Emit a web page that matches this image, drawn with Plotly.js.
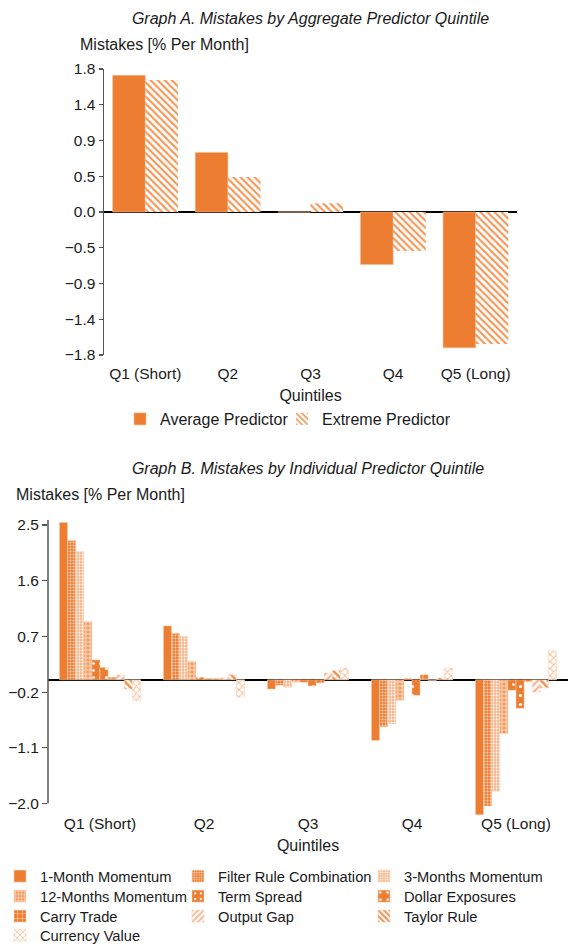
<!DOCTYPE html>
<html>
<head>
<meta charset="utf-8">
<script src="https://cdn.plot.ly/plotly-3.0.1.min.js"></script>
<style>
html,body{margin:0;padding:0;background:#fff;}
#a{position:absolute;left:0;top:0;width:580px;height:440px;}
#b{position:absolute;left:0;top:440px;width:580px;height:504px;}
</style>
</head>
<body>
<div id="a"></div>
<div id="b"></div>
<script>
// ---------- Data ----------
var quintiles = ['Q1 (Short)', 'Q2', 'Q3', 'Q4', 'Q5 (Long)'];

// Graph A
var averagePredictor = [1.72, 0.75, 0.00, -0.66, -1.71];
var extremePredictor = [1.66, 0.44, 0.11, -0.49, -1.66];
var tickValsA = [-1.8, -1.35, -0.9, -0.45, 0, 0.45, 0.9, 1.35, 1.8];
var tickTextA = ['\u22121.8', '\u22121.4', '\u22120.9', '\u22120.5', '0.0', '0.5', '0.9', '1.4', '1.8'];

// Graph B
var predictorNames = ['1-Month Momentum', 'Filter Rule Combination', '3-Months Momentum',
  '12-Months Momentum', 'Term Spread', 'Dollar Exposures', 'Carry Trade',
  'Output Gap', 'Taylor Rule', 'Currency Value'];
var oneMonthMomentum      = [2.54, 0.87, -0.15, -0.98, -2.18];
var filterRuleCombination = [2.25, 0.75, -0.09, -0.76, -2.04];
var threeMonthsMomentum   = [2.07, 0.70, -0.12, -0.71, -1.80];
var twelveMonthsMomentum  = [0.94, 0.30, -0.04, -0.33, -0.87];
var termSpread            = [0.32, 0.04, -0.04, 0.02, -0.17];
var dollarExposures       = [0.20, 0.02, -0.10, -0.25, -0.46];
var carryTrade            = [0.04, 0.02, -0.05, 0.08, -0.03];
var outputGap             = [0.08, 0.03, 0.11, -0.01, -0.20];
var taylorRule            = [-0.15, 0.08, 0.15, 0.03, -0.13];
var currencyValue         = [-0.34, -0.28, 0.19, 0.19, 0.47];
var tickValsB = [-2.0, -1.1, -0.2, 0.7, 1.6, 2.5];
var tickTextB = ['\u22122.0', '\u22121.1', '\u22120.2', '0.7', '1.6', '2.5'];

// ---------- Styles ----------
var ORANGE = '#ED7D31';
var FAM = '"Liberation Sans", Arial, sans-serif';
var TXT = '#1a1a1a';
var F16 = {family: FAM, size: 16, color: TXT};
var F15 = {family: FAM, size: 15.5, color: TXT};
var FLEG = {family: FAM, size: 14.7, color: TXT};
var config = {staticPlot: true, displayModeBar: false};

function legendAt(px, py, left, top, w, h, font) {
  // px = pixel x of text start, py = pixel y of row centre (both in div coords)
  return {orientation: 'h', x: (px - 40 - left) / w, xanchor: 'left',
    y: (top + h - py) / h, yanchor: 'middle', font: font, bgcolor: 'rgba(0,0,0,0)',
    borderwidth: 0, itemclick: false};
}

// ---------- Graph A ----------
var A = {l: 104, t: 69, w: 413, h: 286};
var tracesA = [
  {type: 'bar', name: 'Average Predictor', x: quintiles, y: averagePredictor, legend: 'legend',
   marker: {color: ORANGE, line: {color: '#F8B98F', width: 0.6}}},
  {type: 'bar', name: 'Extreme Predictor', x: quintiles, y: extremePredictor, legend: 'legend2',
   marker: {color: ORANGE, line: {width: 0},
     pattern: {shape: '\\', fillmode: 'replace', fgcolor: '#F29A5C', bgcolor: '#ffffff', size: 5, solidity: 0.45}}}
];
var layoutA = {
  width: 580, height: 440,
  margin: {l: A.l, r: 580 - A.l - A.w, t: A.t, b: 440 - A.t - A.h, autoexpand: false},
  font: F15,
  paper_bgcolor: '#fff', plot_bgcolor: '#fff',
  barmode: 'group', bargap: 0.21, bargroupgap: 0,
  title: {text: 'Graph A. Mistakes by Aggregate Predictor Quintile',
    font: {family: FAM, size: 16, style: 'italic', color: TXT},
    x: 0.5, xref: 'paper', xanchor: 'center', y: 1 - 18/440, yref: 'container', yanchor: 'middle'},
  xaxis: {type: 'category', range: [-0.5, 4.5], showline: false, showgrid: false, zeroline: false,
    ticks: 'outside', ticklen: 4, tickcolor: 'rgba(0,0,0,0)', tickfont: F15,
    title: {text: 'Quintiles', font: F16, standoff: 9}},
  yaxis: {range: [-1.8, 1.8], tickvals: tickValsA, ticktext: tickTextA, tickfont: F15,
    showline: true, linecolor: '#555', linewidth: 1.5, showgrid: false,
    zeroline: true, zerolinecolor: '#000', zerolinewidth: 1.5,
    ticks: 'outside', ticklen: 4, tickcolor: '#555', tickwidth: 1.2},
  yaxis2: {overlaying: 'y', range: [-1.8, 1.8], tickvals: tickValsA, showticklabels: false,
    showline: false, showgrid: false, zeroline: false,
    ticks: 'inside', ticklen: 4, tickcolor: '#555', tickwidth: 1.2},
  showlegend: true,
  legend: legendAt(160, 419, A.l, A.t, A.w, A.h, F16),
  legend2: legendAt(322, 419, A.l, A.t, A.w, A.h, F16),
  annotations: [{text: 'Mistakes [% Per Month]', xref: 'paper', yref: 'paper',
    x: (78 - A.l)/A.w, y: (A.t + A.h - 45)/A.h, xanchor: 'left', yanchor: 'middle', showarrow: false, font: F16}]
};
Plotly.newPlot('a', tracesA, layoutA, config);

// ---------- Graph B ----------
var seriesB = [oneMonthMomentum, filterRuleCombination, threeMonthsMomentum, twelveMonthsMomentum,
  termSpread, dollarExposures, carryTrade, outputGap, taylorRule, currencyValue];
var markersB = [
  {color: ORANGE},
  {color: ORANGE, pattern: {shape: '.', fillmode: 'replace', bgcolor: ORANGE, fgcolor: '#FBD9C2', size: 3, solidity: 0.35}},
  {color: ORANGE, pattern: {shape: '.', fillmode: 'replace', bgcolor: '#F5B88E', fgcolor: '#ffffff', size: 3, solidity: 0.3}},
  {color: ORANGE, pattern: {shape: '+', fillmode: 'replace', bgcolor: '#F29A5C', fgcolor: '#FCE1CF', size: 4, solidity: 0.4}},
  {color: ORANGE, pattern: {shape: '.', fillmode: 'replace', bgcolor: ORANGE, fgcolor: '#ffffff', size: 7, solidity: 0.12}},
  {color: ORANGE, pattern: {shape: '.', fillmode: 'replace', bgcolor: ORANGE, fgcolor: '#ffffff', size: 9, solidity: 0.1}},
  {color: ORANGE, pattern: {shape: '+', fillmode: 'replace', bgcolor: ORANGE, fgcolor: '#ffffff', size: 6, solidity: 0.15}},
  {color: ORANGE, pattern: {shape: '/', fillmode: 'replace', bgcolor: '#ffffff', fgcolor: '#F6B48A', size: 5, solidity: 0.45}},
  {color: ORANGE, pattern: {shape: '\\', fillmode: 'replace', bgcolor: '#ffffff', fgcolor: '#F0904F', size: 5, solidity: 0.5}},
  {color: ORANGE, pattern: {shape: 'x', fillmode: 'replace', bgcolor: '#ffffff', fgcolor: '#F7BE98', size: 5, solidity: 0.35}}
];
var topB = 2.58, botB = -2.2;
var B = {l: 48, t: 80, w: 520, h: (topB - botB) * 62};
// legend slots (text start x, row centre y in div coords); B div starts at y=440
var legColX = [40, 218, 404];
var legRowY = [877 - 440, 897 - 440, 917 - 440, 936 - 440];
var legendSlots = [[0,0],[1,0],[2,0],[0,1],[1,1],[2,1],[0,2],[1,2],[2,2],[0,3]];

var tracesB = predictorNames.map(function (n, i) {
  var m = JSON.parse(JSON.stringify(markersB[i]));
  m.line = {color: '#FAD3B8', width: 0.5};
  return {type: 'bar', name: n, x: quintiles, y: seriesB[i], marker: m,
    legend: i === 0 ? 'legend' : 'legend' + (i + 1)};
});
var layoutB = {
  width: 580, height: 504,
  margin: {l: B.l, r: 580 - B.l - B.w, t: B.t, b: 504 - B.t - B.h, autoexpand: false},
  font: F15,
  paper_bgcolor: '#fff', plot_bgcolor: '#fff',
  barmode: 'group', bargap: 0.22, bargroupgap: 0,
  title: {text: 'Graph B. Mistakes by Individual Predictor Quintile',
    font: {family: FAM, size: 16, style: 'italic', color: TXT},
    x: 0.5, xref: 'paper', xanchor: 'center', y: 1 - 28/504, yref: 'container', yanchor: 'middle'},
  xaxis: {type: 'category', range: [-0.5, 4.5], showline: false, showgrid: false, zeroline: false,
    ticks: '', tickfont: F15, ticklabelstandoff: -4,
    title: {text: 'Quintiles', font: F16, standoff: 9}},
  yaxis: {range: [botB, topB], tickvals: tickValsB, ticktext: tickTextB, tickfont: F15,
    showline: false, showgrid: false,
    zeroline: true, zerolinecolor: '#000', zerolinewidth: 1.5,
    ticks: 'outside', ticklen: 5, tickcolor: '#555', tickwidth: 1.2},
  yaxis2: {overlaying: 'y', range: [botB, topB], tickvals: tickValsB, showticklabels: false,
    showline: false, showgrid: false, zeroline: false,
    ticks: 'inside', ticklen: 5, tickcolor: '#555', tickwidth: 1.2},
  shapes: [{type: 'line', xref: 'paper', yref: 'y', x0: 0, x1: 0, y0: -2.0, y1: topB,
    line: {color: '#555', width: 1.5}}],
  showlegend: true,
  annotations: [{text: 'Mistakes [% Per Month]', xref: 'paper', yref: 'paper',
    x: (14 - B.l)/B.w, y: (B.t + B.h - (494 - 440))/B.h, xanchor: 'left', yanchor: 'middle', showarrow: false, font: F16}]
};
legendSlots.forEach(function (s, i) {
  var key = i === 0 ? 'legend' : 'legend' + (i + 1);
  layoutB[key] = legendAt(legColX[s[0]], legRowY[s[1]], B.l, B.t, B.w, B.h, FLEG);
});
Plotly.newPlot('b', tracesB, layoutB, config);
</script>
</body>
</html>
